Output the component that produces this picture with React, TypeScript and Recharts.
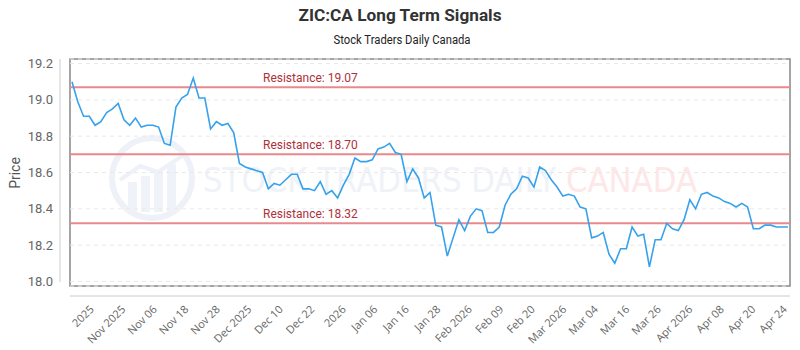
import { LineChart, Line, XAxis, YAxis, CartesianGrid, ReferenceLine } from 'recharts';

// daily closes
const prices = [
    19.10, 18.99, 18.91, 18.91, 18.86, 18.88, 18.93, 18.95, 18.98, 18.89,
    18.86, 18.90, 18.85, 18.86, 18.86, 18.85, 18.76, 18.75, 18.96, 19.01,
    19.03, 19.12, 19.01, 19.01, 18.84, 18.88, 18.86, 18.87, 18.82, 18.65,
    18.63, 18.62, 18.61, 18.60, 18.51, 18.54, 18.53, 18.56, 18.59, 18.59,
    18.51, 18.51, 18.50, 18.55, 18.48, 18.50, 18.46, 18.53, 18.59, 18.68,
    18.66, 18.66, 18.67, 18.73, 18.74, 18.76, 18.71, 18.70, 18.55, 18.62,
    18.57, 18.46, 18.49, 18.31, 18.30, 18.14, 18.24, 18.34, 18.28, 18.36,
    18.40, 18.39, 18.27, 18.27, 18.30, 18.42, 18.48, 18.51, 18.58, 18.57,
    18.52, 18.63, 18.61, 18.56, 18.52, 18.47, 18.48, 18.47, 18.41, 18.40,
    18.24, 18.25, 18.27, 18.15, 18.10, 18.18, 18.18, 18.30, 18.25, 18.26,
    18.08, 18.23, 18.23, 18.32, 18.29, 18.28, 18.34, 18.45, 18.40, 18.48,
    18.49, 18.47, 18.46, 18.44, 18.43, 18.41, 18.43, 18.41, 18.29, 18.29,
    18.31, 18.31, 18.30, 18.30, 18.30,
];

const tickLabels = [
    '2025', 'Nov 2025', 'Nov 06', 'Nov 18', 'Nov 28', 'Dec 2025', 'Dec 10', 'Dec 22',
    '2026', 'Jan 06', 'Jan 16', 'Jan 28', 'Feb 2026', 'Feb 09', 'Feb 20', 'Mar 2026',
    'Mar 04', 'Mar 16', 'Mar 26', 'Apr 2026', 'Apr 08', 'Apr 20', 'Apr 24',
];

const yTicks = [18.0, 18.2, 18.4, 18.6, 18.8, 19.0, 19.2];
const resistanceLevels = [19.07, 18.70, 18.32];

const data = prices.map((price, i) => ({ i, price }));
// labels sit evenly along the axis, not on trading days
const tickPositions = tickLabels.map((_, k) => 3.4 + k * 5.455);

const XTick = ({ x, y, index }: any) => (
    <g transform={`translate(${x + 3},${y + 24})`}>
        <text x={0} y={0} textAnchor="end" transform="rotate(-45)"
            fill="#666" fontSize={11} fontFamily="'Open Sans', sans-serif">
            {tickLabels[index]}
        </text>
    </g>
);

const ResistanceLabel = ({ viewBox, value }: any) => (
    <text x={viewBox.x + 193} y={viewBox.y - 5} fill="#b0303a" fontSize={12}
        fontFamily="Roboto, sans-serif">
        {`Resistance: ${value.toFixed(2)}`}
    </text>
);

// titles, frame and the faint brand watermark behind the chart
function Backdrop() {
    return (
        <svg width={800} height={350} style={{ position: 'absolute', left: 0, top: 0 }}>
            <text x={400} y={21} textAnchor="middle" fontSize={17} fontWeight="bold" fill="#333"
                fontFamily="Roboto, sans-serif" textLength={203} lengthAdjust="spacingAndGlyphs">
                ZIC:CA Long Term Signals
            </text>
            <text x={402} y={44} textAnchor="middle" fontSize={12} fill="#222"
                fontFamily="Roboto, sans-serif" textLength={137} lengthAdjust="spacingAndGlyphs">
                Stock Traders Daily Canada
            </text>
            <text x={0} y={0} transform="translate(20,173) rotate(-90)" textAnchor="middle"
                fontSize={14} fill="#555" fontFamily="Roboto, sans-serif">
                Price
            </text>
            <circle cx={152} cy={178} r={40} fill="none" stroke="#eef1f7" strokeWidth={6} />
            <rect x={128} y={182} width={9} height={30} fill="#eff2f8" />
            <rect x={141} y={176} width={9} height={36} fill="#eff2f8" />
            <rect x={154} y={170} width={9} height={42} fill="#eff2f8" />
            <rect x={167} y={164} width={9} height={48} fill="#eff2f8" />
            <polyline points="120,180 140,166 158,172 182,156" fill="none" stroke="#eef1f7" strokeWidth={4} />
            <text x={203} y={192} fontSize={34} fill="#eff2f7"
                fontFamily="'DejaVu Sans Condensed', 'DejaVu Sans', sans-serif"
                textLength={494} lengthAdjust="spacingAndGlyphs">
                STOCK TRADERS DAILY <tspan fill="#fde7e7">CANADA</tspan>
            </text>
            <line x1={60} y1={59} x2={60} y2={282} stroke="#ccc" strokeWidth={1} />
            <line x1={70} y1={296} x2={790} y2={296} stroke="#ccc" strokeWidth={1} />
            <rect x={70} y={59} width={720} height={227} fill="none" stroke="#888" strokeWidth={1.5} />
        </svg>
    );
}

export default function App() {
    return (
        <div style={{ position: 'absolute', left: 0, top: 0, width: 800, height: 350, background: '#fff' }}>
            <Backdrop />
            <div style={{ position: 'absolute', left: 0, top: 0 }}>
                <LineChart width={800} height={350} data={data}
                    margin={{ top: 59, right: 10, bottom: 0, left: 0 }}>
                    <CartesianGrid vertical={false} stroke="#e9e9e9" strokeDasharray="4 4" />
                    <XAxis type="number" dataKey="i" domain={[0, prices.length - 1]} ticks={tickPositions}
                        interval={0} tick={<XTick />} tickLine={false} axisLine={false}
                        tickSize={0} tickMargin={0} height={64} padding={{ left: 2, right: 2 }} />
                    <YAxis domain={[17.975, 19.225]} ticks={yTicks} tickFormatter={(v) => v.toFixed(1)}
                        width={70} tickLine={false} tickSize={0} tickMargin={17} axisLine={false}
                        tick={{ fill: '#666', fontSize: 13, fontFamily: 'Roboto, sans-serif' }} />
                    {resistanceLevels.map((r) => (
                        <ReferenceLine key={r} y={r} stroke="#e8898d" strokeWidth={2}
                            label={<ResistanceLabel value={r} />} />
                    ))}
                    <Line type="linear" dataKey="price" stroke="#36a2eb" strokeWidth={1.6}
                        dot={false} isAnimationActive={false} />
                </LineChart>
            </div>
        </div>
    );
}
